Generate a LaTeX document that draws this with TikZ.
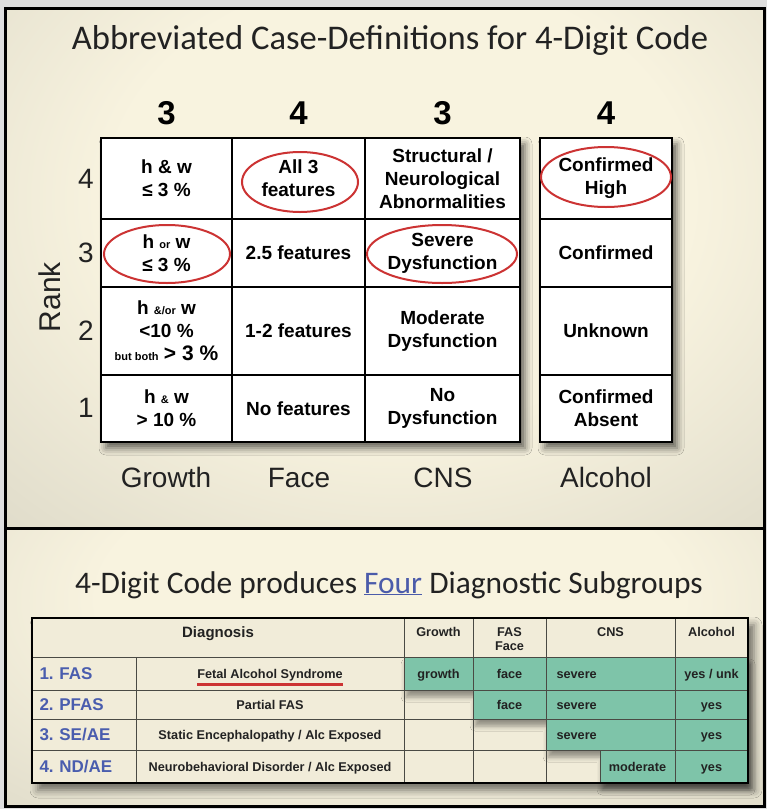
\documentclass[tikz,border=0pt]{standalone}
\usepackage{fontspec}
\usetikzlibrary{shadows.blur}
\newfontfamily\arialf{Liberation Sans}
\newfontfamily\calibf{Carlito}
\definecolor{panelcream}{HTML}{F8F3DF}
\definecolor{paneledge}{HTML}{BAB8AA}
\definecolor{ringred}{HTML}{CC3333}
\definecolor{subgreen}{HTML}{7EC4A9}
\definecolor{abbrblue}{HTML}{4A5DAE}
\definecolor{fourblue}{HTML}{4B5BAA}
\definecolor{inktext}{HTML}{222222}
\definecolor{tablecream}{HTML}{F1ECD9}
\definecolor{ruleink}{HTML}{4A4A44}
\pgfdeclareradialshading{panelglow}{\pgfpoint{0bp}{0bp}}{color(0bp)=(panelcream); color(14bp)=(panelcream); color(50bp)=(paneledge)}
\tikzset{
  gcell/.style={draw=black, line width=2.4pt, inner sep=0pt, outer sep=0pt, align=center,
    font=\arialf\bfseries\fontsize{19}{23}\selectfont, text=black},
  digit/.style={font=\arialf\bfseries\fontsize{33}{36}\selectfont, anchor=base, text=black},
  collabel/.style={font=\arialf\fontsize{28}{30}\selectfont, anchor=base, text=inktext},
  ranknum/.style={font=\arialf\fontsize{28}{30}\selectfont, text=inktext},
  ring/.style={draw=ringred, line width=2pt},
  hdr/.style={font=\arialf\bfseries\fontsize{12.7}{14}\selectfont, text=inktext, align=center},
  tcell/.style={font=\arialf\bfseries\fontsize{12.7}{14}\selectfont, text=inktext, anchor=base},
  abbr/.style={font=\arialf\bfseries\fontsize{17}{19}\selectfont, text=abbrblue, anchor=base west},
  thinrule/.style={draw=ruleink, line width=0.9pt},
}
\newcommand{\smallpart}[1]{{\fontsize{11}{11}\selectfont #1}}
\begin{document}
\begin{tikzpicture}[x=1pt, y=-1pt]
\useasboundingbox (0,0) rectangle (767,809);
\fill[gray!25] (0,0) rectangle (767,809);

% upper and lower panels with a soft glow
\begin{scope}
  \clip (5.5,8) rectangle (764,528.5);
  \shade[shading=panelglow] (-120,-200) rectangle (920,600);
\end{scope}
\begin{scope}
  \clip (5.5,528.5) rectangle (764,806.5);
  \shade[shading=panelglow] (-130,340) rectangle (910,860);
\end{scope}
\draw[line width=3pt, black] (5.5,8) rectangle (764,806.5);
\draw[line width=3pt, black] (5.5,528.5) -- (764,528.5);

% titles
\node[font=\calibf\fontsize{34.6}{38}\selectfont, text=inktext, anchor=base] (title) at (390,49)
  {Abbreviated Case-Definitions for 4-Digit Code};
\node[font=\calibf\fontsize{31.4}{36}\selectfont, text=inktext, anchor=base] (subtitle) at (389,593)
  {4-Digit Code produces {\color{fourblue}\underline{Four}} Diagnostic Subgroups};

% digit per domain
\node[digit] (d1) at (166.5,124) {3};
\node[digit] (d2) at (298.5,124) {4};
\node[digit] (d3) at (442.5,124) {3};
\node[digit] (d4) at (606,124) {4};

% grid backgrounds with shadows
\fill[white, blur shadow={shadow xshift=5pt, shadow yshift=-6pt, shadow blur radius=7pt, shadow opacity=60}]
  (101,138) rectangle (520,442);
\fill[white, blur shadow={shadow xshift=5pt, shadow yshift=-6pt, shadow blur radius=7pt, shadow opacity=60}]
  (540,138) rectangle (672,442);

% growth column
\node[gcell, minimum width=131pt, minimum height=81pt] (g4) at (166.5,178.5) {h \& w\\≤ 3 \%};
\node[gcell, minimum width=131pt, minimum height=68pt] (g3) at (166.5,253) {h \smallpart{or} w\\≤ 3 \%};
\node[gcell, minimum width=131pt, minimum height=88pt] (g2) at (166.5,331)
  {h \smallpart{\&/or} w\\<10 \%\\\smallpart{but both} {\fontsize{21}{23}\selectfont > 3 \%}};
\node[gcell, minimum width=131pt, minimum height=67pt] (g1) at (166.5,408.5) {h \smallpart{\&} w\\> 10 \%};
% face column
\node[gcell, minimum width=133pt, minimum height=81pt] (f4) at (298.5,178.5) {All 3\\features};
\node[gcell, minimum width=133pt, minimum height=68pt] (f3) at (298.5,253) {2.5 features};
\node[gcell, minimum width=133pt, minimum height=88pt] (f2) at (298.5,331) {1-2 features};
\node[gcell, minimum width=133pt, minimum height=67pt] (f1) at (298.5,408.5) {No features};
% CNS column
\node[gcell, minimum width=155pt, minimum height=81pt] (c4) at (442.5,178.5) {Structural /\\Neurological\\Abnormalities};
\node[gcell, minimum width=155pt, minimum height=68pt] (c3) at (442.5,253) {Severe\\Dysfunction};
\node[gcell, minimum width=155pt, minimum height=88pt] (c2) at (442.5,331) {Moderate\\Dysfunction};
\node[gcell, minimum width=155pt, minimum height=67pt] (c1) at (442.5,408.5) {No\\Dysfunction};
% alcohol column
\node[gcell, minimum width=132pt, minimum height=81pt] (a4) at (606,178.5) {Confirmed\\High};
\node[gcell, minimum width=132pt, minimum height=68pt] (a3) at (606,253) {Confirmed};
\node[gcell, minimum width=132pt, minimum height=88pt] (a2) at (606,331) {Unknown};
\node[gcell, minimum width=132pt, minimum height=67pt] (a1) at (606,408.5) {Confirmed\\Absent};

% red rings around the FAS criteria
\draw[ring] (300,182) ellipse [x radius=58, y radius=30];
\draw[ring] (167,254) ellipse [x radius=63, y radius=29];
\draw[ring] (442,254) ellipse [x radius=75, y radius=29];
\draw[ring] (606,177) ellipse [x radius=65, y radius=30];

% rank axis
\node[ranknum] (r4) at (86,179) {4};
\node[ranknum] (r3) at (86,253) {3};
\node[ranknum] (r2) at (86,331) {2};
\node[ranknum] (r1) at (86,408) {1};
\node[font=\arialf\fontsize{30}{32}\selectfont, text=inktext, rotate=90] (rank) at (50,297) {Rank};

% domain labels
\node[collabel] (lg) at (166,487) {Growth};
\node[collabel] (lf) at (299,487) {Face};
\node[collabel] (lc) at (443,487) {CNS};
\node[collabel] (la) at (606,487) {Alcohol};

% ---- diagnostic subgroup table ----
\fill[tablecream, blur shadow={shadow xshift=6pt, shadow yshift=-7pt, shadow blur radius=8pt, shadow opacity=55}]
  (32,618) rectangle (748,783);
\fill[subgreen, blur shadow={shadow xshift=2pt, shadow yshift=-7pt, shadow blur radius=5pt, shadow opacity=40}]
  (404,657) -- (748,657) -- (748,783) -- (600,783) -- (600,750) -- (546,750)
  -- (546,719) -- (473,719) -- (473,690) -- (404,690) -- cycle;

% table rules
\draw[thinrule] (32,657) -- (748,657);
\draw[thinrule] (32,690) -- (748,690);
\draw[thinrule] (32,719) -- (748,719);
\draw[thinrule] (32,750) -- (748,750);
\draw[thinrule] (136,657) -- (136,783);
\draw[thinrule] (404,618) -- (404,783);
\draw[thinrule] (473,618) -- (473,783);
\draw[thinrule] (546,618) -- (546,783);
\draw[thinrule] (600,750) -- (600,783);
\draw[thinrule] (675,618) -- (675,783);
\draw[line width=2.6pt, black] (32,618) rectangle (748,783);

% header
\node[hdr, font=\arialf\bfseries\fontsize{15}{17}\selectfont, anchor=base] (hdiag) at (218,637) {Diagnosis};
\node[hdr, anchor=base] (hgrowth) at (438.5,636) {Growth};
\node[hdr, anchor=north] (hface) at (509.5,624) {FAS\\Face};
\node[hdr, anchor=base] (hcns) at (610.5,636) {CNS};
\node[hdr, anchor=base] (halc) at (711.5,636) {Alcohol};

% subgroup rows
\node[abbr] (n1) at (36,679) {1.\,\,FAS};
\node[abbr] (n2) at (36,710) {2.\,\,PFAS};
\node[abbr] (n3) at (36,740) {3.\,\,SE/AE};
\node[abbr] (n4) at (36,772) {4.\,\,ND/AE};
\node[tcell, inner sep=0pt] (fas) at (270,678.5) {Fetal Alcohol Syndrome};
\node[tcell] (pfas) at (270,709) {Partial FAS};
\node[tcell] (seae) at (270,739) {Static Encephalopathy / Alc Exposed};
\node[tcell] (ndae) at (270,771) {Neurobehavioral Disorder / Alc Exposed};
\draw[ringred, line width=2.5pt] ([yshift=-6pt]fas.base west) -- ([yshift=-6pt]fas.base east);

\node[tcell] (gr1) at (438.5,678.5) {growth};
\node[tcell] (fc1) at (509.5,678.5) {face};
\node[tcell] (fc2) at (509.5,709) {face};
\node[tcell, anchor=base west] (sv1) at (553,678.5) {severe};
\node[tcell, anchor=base west] (sv2) at (553,709) {severe};
\node[tcell, anchor=base west] (sv3) at (553,739) {severe};
\node[tcell] (md4) at (637.5,771) {moderate};
\node[tcell] (al1) at (711.5,678.5) {yes / unk};
\node[tcell] (al2) at (711.5,709) {yes};
\node[tcell] (al3) at (711.5,739) {yes};
\node[tcell] (al4) at (711.5,771) {yes};
\end{tikzpicture}
\end{document}
